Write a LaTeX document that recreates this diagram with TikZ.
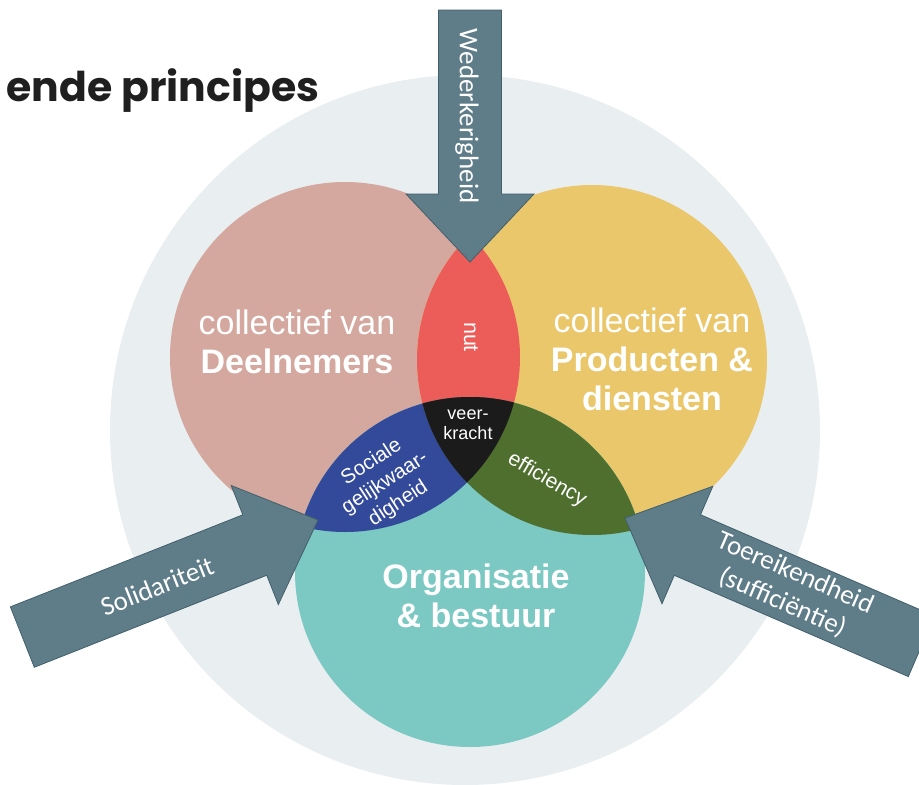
\documentclass[tikz,border=0pt]{standalone}
\usepackage{fontspec}
\setmainfont{Liberation Sans}
\newfontfamily\arrowfont{Carlito}
\newfontfamily\titlefont{Poppins}

\definecolor{paleback}{HTML}{E9EEF1}
\definecolor{deelcol}{HTML}{D4A89F}
\definecolor{prodcol}{HTML}{EBC76B}
\definecolor{orgcol}{HTML}{7CC8C3}
\definecolor{nutcol}{HTML}{EC5C59}
\definecolor{soccol}{HTML}{334A9A}
\definecolor{effcol}{HTML}{4F6F2F}
\definecolor{corecol}{HTML}{1B1B1B}
\definecolor{arrowfill}{HTML}{5F7D89}
\definecolor{arrowline}{HTML}{42606B}

\tikzset{
  bigarrow/.style={fill=arrowfill, draw=arrowline, line width=0.8pt, line join=miter},
  arrowlabel/.style={text=white, align=center, font=\arrowfont\fontsize{27}{32}\selectfont},
  circlabel/.style={text=white, align=center, font=\fontsize{34}{39}\selectfont},
  lenslabel/.style={text=white, align=center, inner sep=1pt, font=\fontsize{20.5}{24.5}\selectfont},
}

% #1 tip, #2 direction, #3 shaft length, #4 shaft half width
\newcommand{\principlearrow}[4]{%
  \draw[bigarrow, shift={#1}, rotate=#2]
    (0,0) -- (-68,64) -- (-68,#4) -- (-68-#3,#4) -- (-68-#3,-#4)
    -- (-68,-#4) -- (-68,-64) -- cycle;}

\begin{document}
\begin{tikzpicture}[x=1pt, y=-1pt]
  \useasboundingbox (0,0) rectangle (919,785);
  \clip (0,0) rectangle (919,785);

  \coordinate (mid) at (465,430);
  \coordinate (deel) at (345,357);
  \coordinate (prod) at (592,360);
  \coordinate (org) at (470,572);

  \fill[paleback] (mid) circle (355);

  \fill[deelcol] (deel) circle (175);
  \fill[prodcol] (prod) circle (175);
  \fill[orgcol] (org) circle (175);
  \begin{scope}
    \clip (deel) circle (175);
    \fill[nutcol] (prod) circle (175);
    \fill[soccol] (org) circle (175);
  \end{scope}
  \begin{scope}
    \clip (prod) circle (175);
    \fill[effcol] (org) circle (175);
  \end{scope}
  \begin{scope}
    \clip (deel) circle (175);
    \clip (prod) circle (175);
    \fill[corecol] (org) circle (175);
  \end{scope}

  \node[circlabel] (deeltext) at (297,342) {collectief van\\\textbf{Deelnemers}};
  \node[circlabel] (prodtext) at (652,359) {collectief van\\\textbf{Producten \&}\\\textbf{diensten}};
  \node[circlabel] (orgtext) at (476,596) {\textbf{Organisatie}\\\textbf{\& bestuur}};

  \node[lenslabel, rotate=-90, font=\fontsize{21.5}{24}\selectfont] (nut) at (471,337) {nut};
  \node[lenslabel, font=\fontsize{18}{20}\selectfont] (veerkracht) at (468,425) {veer-\\kracht};
  \node[lenslabel, rotate=33] (sociale) at (385,483) {Sociale\\gelijkwaar-\\digheid};
  \node[lenslabel, rotate=-30, font=\fontsize{21}{24}\selectfont] (efficiency) at (547,480) {efficiency};

  % principes
  \principlearrow{(470,262)}{-90}{184}{31.5}
  \principlearrow{(318,520)}{21.6}{250}{32.5}
  \principlearrow{(625,518)}{156.6}{255}{33}

  \node[arrowlabel, rotate=-90] (wederkerig) at (467,116) {Wederkerigheid};
  \node[arrowlabel, rotate=21.6] (solidair) at (157,586) {Solidariteit};
  \node[arrowlabel, rotate=-23.4] (toereikend) at (789,588) {Toereikendheid\\(sufficiëntie)};

  \node[anchor=base west, text=black!88, font=\titlefont\bfseries\fontsize{41}{44}\selectfont] (title) at (3,101) {ende principes};
\end{tikzpicture}
\end{document}
